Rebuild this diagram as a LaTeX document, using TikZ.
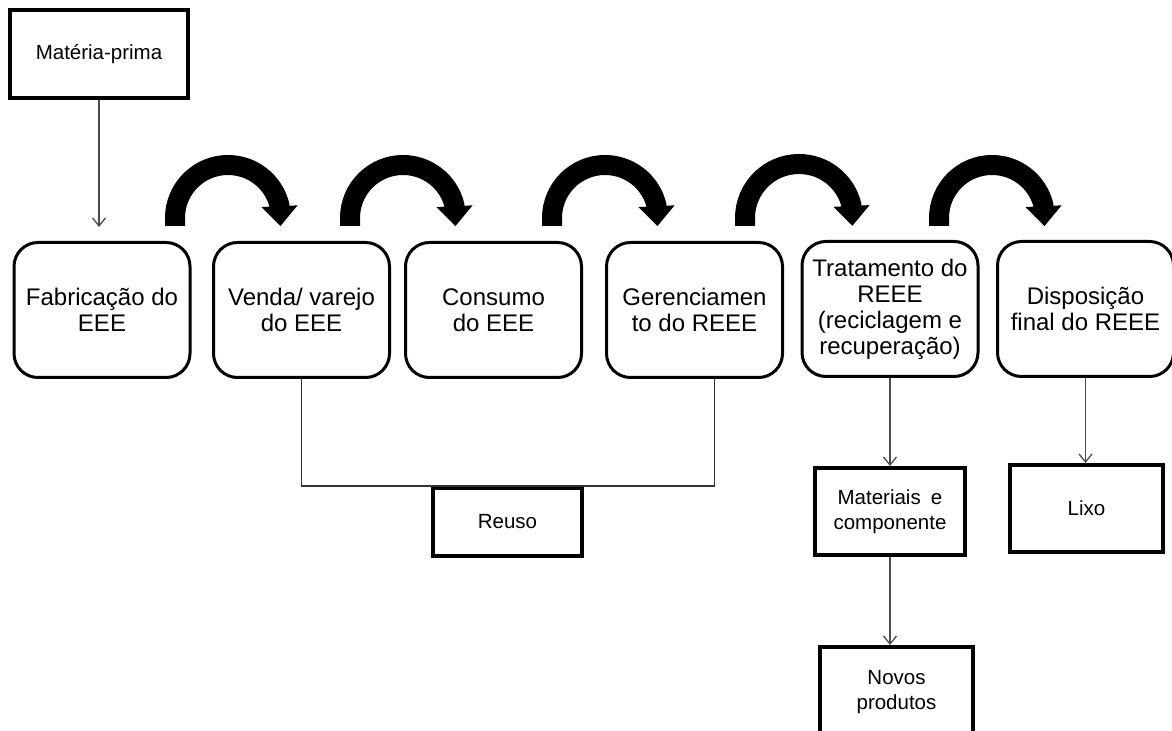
\documentclass[tikz,border=0pt]{standalone}
\usepackage{fontspec}
\setmainfont{Liberation Sans}
\usetikzlibrary{arrows.meta,calc}

\begin{document}
\begin{tikzpicture}[x=0.5pt,y=-0.5pt,
etapa/.style={draw,line width=1.5pt,rounded corners=12pt,minimum width=88pt,minimum height=67.5pt,inner sep=0pt,align=center,font=\fontsize{12}{13}\selectfont},
caixa/.style={draw,line width=2pt,inner sep=0pt,align=center,font=\fontsize{10.25}{12.5}\selectfont},
seta/.style={draw=black!70,line width=0.65pt,-{Straight Barb[length=4pt,width=6.5pt]}},
linha/.style={draw=black!80,line width=0.65pt},
curva/.style={line width=10pt,-{Triangle[length=10pt,width=17.5pt]}}]
\clip (0,0) rectangle (1172,731);

\node[caixa,minimum width=89pt,minimum height=44pt] (mp) at (99,54) {Matéria-prima};
\coordinate (mpfim) at (99,227);

\node[etapa] (fab) at (102,310) {Fabricação do\\EEE};
\node[etapa] (venda) at (301.5,310) {Venda/ varejo\\do EEE};
\node[etapa] (cons) at (493.5,310) {Consumo\\do EEE};
\node[etapa] (ger) at (694.5,310) {Gerenciamen\\to do REEE};
\node[etapa] (trat) at (890,309) {Tratamento do\\REEE\\(reciclagem e\\recuperação)};
\node[etapa] (disp) at (1085.5,309) {Disposição\\final do REEE};

\node[caixa,minimum width=74.5pt,minimum height=34pt] (reuso) at (507.5,522) {Reuso};
\node[caixa,minimum width=75pt,minimum height=43.5pt] (mat) at (890,511.5) {Materiais\enspace e\\componente};
\node[caixa,minimum width=76.5pt,minimum height=43.5pt] (lixo) at (1086.5,508.5) {Lixo};
\node[caixa,minimum width=76.5pt,minimum height=45pt] (novos) at (896.5,692) {Novos\\produtos};

\draw[seta] (mp.south) -- (mpfim);
\draw[curva] (175,226) -- (175,218) arc[start angle=180,end angle=346,radius=53] -- ++(1,21);
\draw[curva] (350,226) -- (350,218) arc[start angle=180,end angle=346,radius=53] -- ++(1,21);
\draw[curva] (552,226) -- (552,218) arc[start angle=180,end angle=346,radius=53] -- ++(1,21);
\draw[curva] (745,226) -- (745,218) arc[start angle=180,end angle=346,radius=54] -- ++(1,21);
\draw[curva] (939,226) -- (939,218) arc[start angle=180,end angle=346,radius=53] -- ++(1,21);

\draw[linha] (venda.south) -- (venda.south |- reuso.north) -- ($(ger.south |- reuso.north)+(20,0)$) -- ($(ger.south)+(20,0)$);
\draw[seta] (trat.south) -- (mat.north);
\draw[seta] (mat.south) -- (mat.south |- novos.north);
\draw[seta] (disp.south) -- (disp.south |- lixo.north);
\end{tikzpicture}
\end{document}
